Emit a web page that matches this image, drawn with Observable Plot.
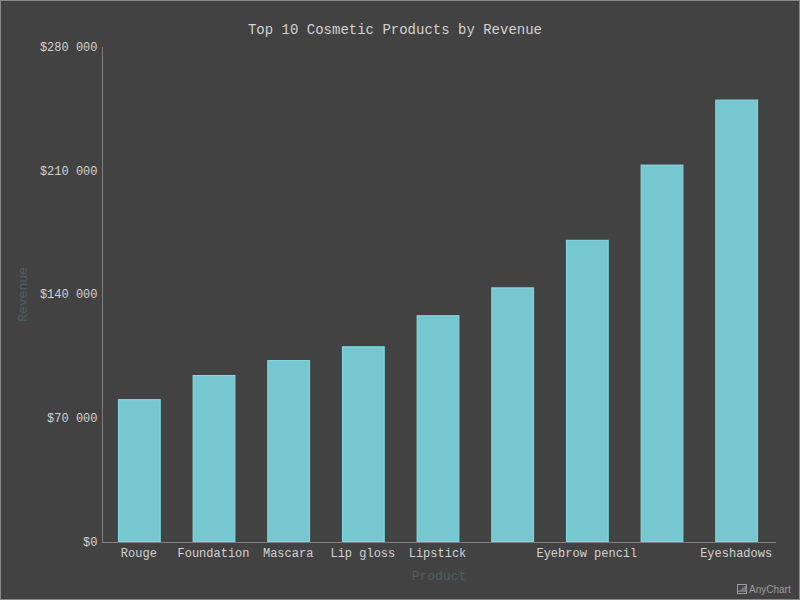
<!DOCTYPE html>
<html>
<head>
<meta charset="utf-8">
<script src="https://cdn.jsdelivr.net/npm/d3@7"></script>
<script src="https://cdn.jsdelivr.net/npm/@observablehq/plot@0.6"></script>
<style>
html,body{margin:0;padding:0;background:#424242;}
#wrap{position:relative;width:800px;height:600px;overflow:hidden;}
#frame{position:absolute;left:0;top:0;width:798px;height:598px;border:1px solid #8a8a8a;pointer-events:none;}
#credit{position:absolute;left:737px;top:582px;height:14px;display:flex;align-items:center;gap:2px;font:10px "Liberation Sans",sans-serif;color:#9e9e9e;}
svg{display:block;}
</style>
</head>
<body>
<div id="wrap"></div>
<script>
const categories = ["Rouge","Foundation","Mascara","Lip gloss","Lipstick","Nail polish","Eyebrow pencil","Eyeliner","Eyeshadows"];
const revenue = [80540,94190,102610,110430,128000,143760,170670,213210,249980];
const tickLabels = ["Rouge","Foundation","Mascara","Lip gloss","Lipstick","","Eyebrow pencil","","Eyeshadows"];
const yTicks = [0,70000,140000,210000,280000];
const title = "Top 10 Cosmetic Products by Revenue";

const rows = categories.map((c,i)=>({c,v:revenue[i]}));
const fmt = v => "$" + String(v).replace(/\B(?=(\d{3})+$)/g," ");
const labelOf = d3.scaleOrdinal(categories, tickLabels);
const textColor = "#d2d2d2";

const chart = Plot.plot({
  width:800,height:600,
  marginTop:47,marginBottom:58,marginLeft:102,marginRight:25,
  style:{background:"#424242",fontFamily:"'Liberation Mono',monospace",fontSize:"12px",color:textColor},
  x:{domain:categories,range:[102,774],paddingInner:0.44,paddingOuter:0.22,align:0.5,round:false,label:null},
  y:{domain:[0,280000],label:null},
  marks:[
    Plot.barY(rows,{x:"c",y:"v",fill:"#80deea",fillOpacity:0.85,stroke:"#80deea",strokeWidth:1}),
    Plot.frame({anchor:"left",stroke:"#808080"}),
    Plot.frame({anchor:"bottom",stroke:"#808080"}),
    Plot.axisY({ticks:yTicks,tickSize:0,tickPadding:5,dy:-0.5,tickFormat:fmt,label:null,fill:textColor,fontSize:12}),
    Plot.axisX({tickSize:0,tickPadding:6,dx:-1,tickFormat:d=>labelOf(d),label:null,fill:textColor,fontSize:12}),
    Plot.text([title],{frameAnchor:"top",dx:-44,dy:-23,fill:textColor,fontSize:14}),
    Plot.text(["Product"],{frameAnchor:"bottom",dy:37,fill:"#4f6064",fontSize:13}),
    Plot.text(["Revenue"],{frameAnchor:"left",dx:-80,dy:-0.5,textAnchor:"middle",rotate:-90,fill:"#4f6064",fontSize:13})
  ]
});
const wrap = document.getElementById("wrap");
wrap.appendChild(chart);
const f = document.createElement("div"); f.id="frame"; wrap.appendChild(f);
const cr = document.createElement("div"); cr.id="credit";
cr.innerHTML = '<svg width="10" height="10" viewBox="0 0 10 10"><rect x=".5" y=".5" width="9" height="9" fill="none" stroke="#9e9e9e"/><path d="M2 8V6.5M4 8V5.5M6 8V3.5M8 8V2" stroke="#9e9e9e" stroke-width="1.2"/></svg><span>AnyChart</span>';
wrap.appendChild(cr);
</script>
</body>
</html>
